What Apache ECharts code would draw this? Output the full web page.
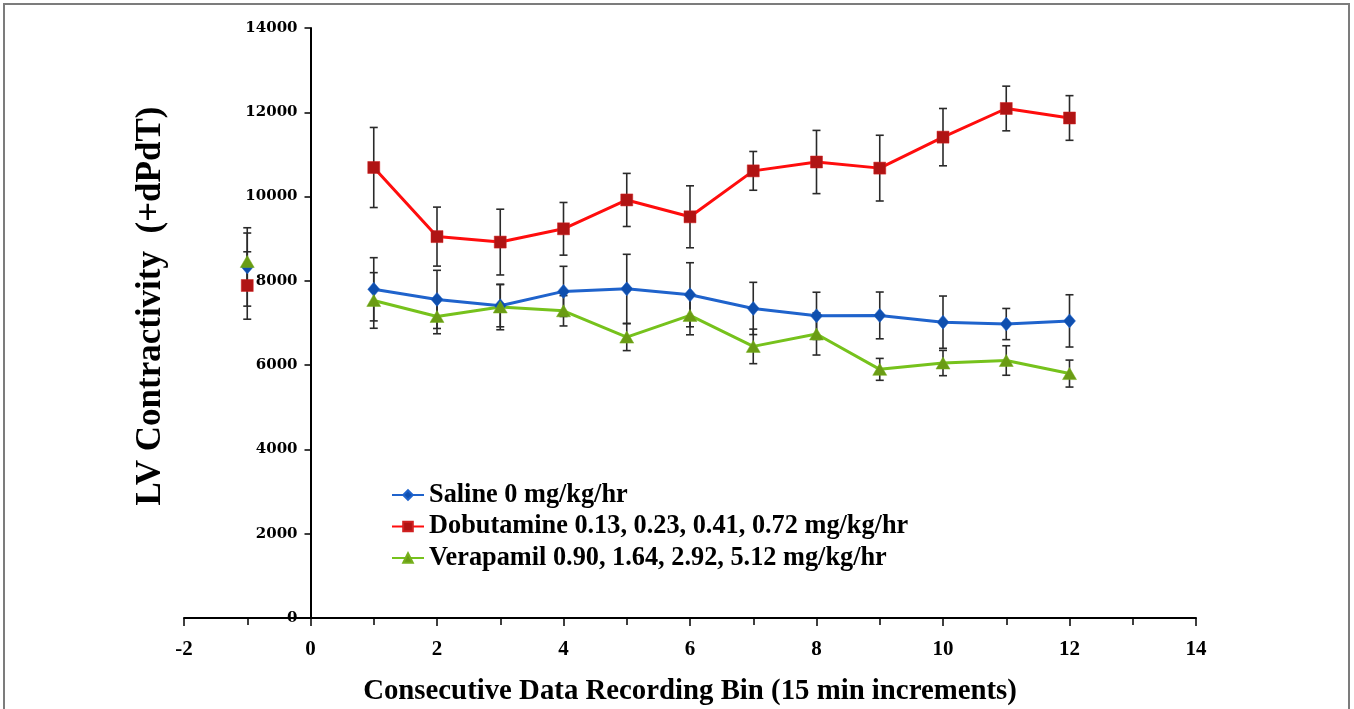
<!DOCTYPE html>
<html>
<head>
<meta charset="utf-8">
<script src="https://cdn.jsdelivr.net/npm/echarts@6/dist/echarts.min.js"></script>
<style>
html,body{margin:0;padding:0;background:#fff;width:1354px;height:709px;overflow:hidden;}
#chart{position:absolute;left:0;top:0;width:1354px;height:709px;}
#frame{position:absolute;left:3px;top:3px;width:1343px;height:704px;border:2px solid #7c7c7c;border-bottom:none;pointer-events:none;}
</style>
</head>
<body>
<div id="chart"></div>
<div id="frame"></div>
<script>
// ---- data ----
const bins = [-1, 1, 2, 3, 4, 5, 6, 7, 8, 9, 10, 11, 12];
const seriesNames = [
  'Saline 0 mg/kg/hr',
  'Dobutamine 0.13, 0.23, 0.41, 0.72 mg/kg/hr',
  'Verapamil 0.90, 1.64, 2.92, 5.12 mg/kg/hr'
];
const saline    = [8330, 7800, 7560, 7410, 7750, 7810, 7670, 7345, 7170, 7180, 7020, 6975, 7050];
const salineErr = [930, 750, 690, 500, 595, 820, 760, 620, 560, 555, 620, 370, 620];
const dobut     = [7890, 10690, 9050, 8920, 9235, 9920, 9520, 10610, 10820, 10675, 11410, 12090, 11865];
const dobutErr  = [800, 950, 700, 780, 625, 630, 735, 460, 750, 780, 680, 530, 530];
const verap     = [8460, 7535, 7155, 7380, 7290, 6665, 7180, 6445, 6740, 5900, 6050, 6110, 5800];
const verapErr  = [675, 660, 410, 540, 360, 320, 460, 410, 500, 260, 300, 350, 320];
const xTitle = 'Consecutive Data Recording Bin (15 min increments)';
const yTitle = 'LV Contractivity  (+dPdT)';

const SERIF = '"Liberation Serif", "Times New Roman", serif';
const WIDE = '"DejaVu Serif", "Liberation Serif", serif';

function lineData(vals) {
  const d = bins.map((b, i) => [b, vals[i]]);
  // baseline point (bin -1) is not joined to the recording bins
  d.splice(1, 0, [0, '-']);
  return d;
}
function errData(vals, errs) {
  return bins.map((b, i) => [b, vals[i], errs[i]]);
}
function errSeries(vals, errs) {
  return {
    type: 'custom',
    z: 1,
    silent: true,
    data: errData(vals, errs),
    encode: { x: 0, y: 1 },
    renderItem: function (params, api) {
      const x = api.value(0), y = api.value(1), e = api.value(2);
      const top = api.coord([x, y + e]);
      const bot = api.coord([x, y - e]);
      const hw = 4;
      const st = { stroke: '#2a2a2a', lineWidth: 1.6 };
      return {
        type: 'group',
        children: [
          { type: 'line', shape: { x1: top[0], y1: top[1], x2: bot[0], y2: bot[1] }, style: st },
          { type: 'line', shape: { x1: top[0] - hw, y1: top[1], x2: top[0] + hw, y2: top[1] }, style: st },
          { type: 'line', shape: { x1: bot[0] - hw, y1: bot[1], x2: bot[0] + hw, y2: bot[1] }, style: st }
        ]
      };
    }
  };
}

const chart = echarts.init(document.getElementById('chart'), null, { renderer: 'canvas', width: 1354, height: 709 });
const option = {
  animation: false,
  backgroundColor: '#fff',
  grid: { left: 184, right: 158, top: 28, bottom: 91, containLabel: false, outerBoundsMode: 'none' },
  legend: {
    orient: 'vertical',
    left: 386,
    top: 477,
    itemWidth: 32,
    itemHeight: 12,
    itemGap: 5.5,
    data: seriesNames,
    textStyle: { fontFamily: SERIF, fontWeight: 'bold', fontSize: 26.3, color: '#000', lineHeight: 26 }
  },
  xAxis: {
    type: 'value',
    min: -2, max: 14, interval: 2,
    name: xTitle,
    nameLocation: 'middle',
    nameGap: 59,
    nameTextStyle: { fontFamily: SERIF, fontWeight: 'bold', fontSize: 28.8, color: '#000' },
    axisLine: { show: true, onZero: false, lineStyle: { color: '#000', width: 2 } },
    axisTick: { show: true, length: 8, lineStyle: { color: '#000', width: 1.5 } },
    minorTick: { show: true, splitNumber: 2, length: 7, lineStyle: { color: '#000', width: 1.5 } },
    axisLabel: { fontFamily: SERIF, fontWeight: 'bold', fontSize: 21, color: '#000', margin: 21 },
    splitLine: { show: false }
  },
  yAxis: {
    type: 'value',
    position: 'left',
    offset: 0,
    min: 0, max: 14000, interval: 2000,
    name: yTitle,
    nameLocation: 'middle',
    nameGap: 142,
    nameRotate: 90,
    nameTextStyle: { fontFamily: SERIF, fontWeight: 'bold', fontSize: 35, color: '#000', padding: [0, 0, 0, 34] },
    axisLine: { show: true, onZero: false, lineStyle: { color: '#000', width: 2 } },
    axisTick: { show: true, length: 6, lineStyle: { color: '#000', width: 1.5 } },
    axisLabel: { fontFamily: WIDE, fontWeight: 'bold', fontSize: 15, color: '#000', margin: 13,
                 formatter: function (v) { return String(v); } },
    splitLine: { show: false }
  },
  series: [
    errSeries(saline, salineErr),
    errSeries(dobut, dobutErr),
    errSeries(verap, verapErr),
    {
      name: seriesNames[0], type: 'line', z: 3,
      data: lineData(saline),
      symbol: 'diamond', symbolSize: [12, 14],
      lineStyle: { color: '#1f63cc', width: 3 },
      itemStyle: { color: '#0f4fae', borderColor: '#1f63cc', borderWidth: 0.5 }
    },
    {
      name: seriesNames[1], type: 'line', z: 3,
      data: lineData(dobut),
      symbol: 'rect', symbolSize: 12,
      lineStyle: { color: '#ff0d0d', width: 3 },
      itemStyle: { color: '#b01414', borderColor: '#d02020', borderWidth: 0.5 }
    },
    {
      name: seriesNames[2], type: 'line', z: 3,
      data: lineData(verap),
      symbol: 'triangle', symbolSize: [14, 12],
      lineStyle: { color: '#76c21c', width: 3 },
      itemStyle: { color: '#6a9c14', borderColor: '#76b01c', borderWidth: 0.5 }
    }
  ]
};
chart.setOption(option);
// place the y axis (line, ticks and labels) where x = 0, as in the reference
const xZero = chart.convertToPixel({ xAxisIndex: 0 }, 0);
const xMin = chart.convertToPixel({ xAxisIndex: 0 }, option.xAxis.min);
chart.setOption({ yAxis: { offset: -(xZero - xMin) } });
</script>
</body>
</html>
